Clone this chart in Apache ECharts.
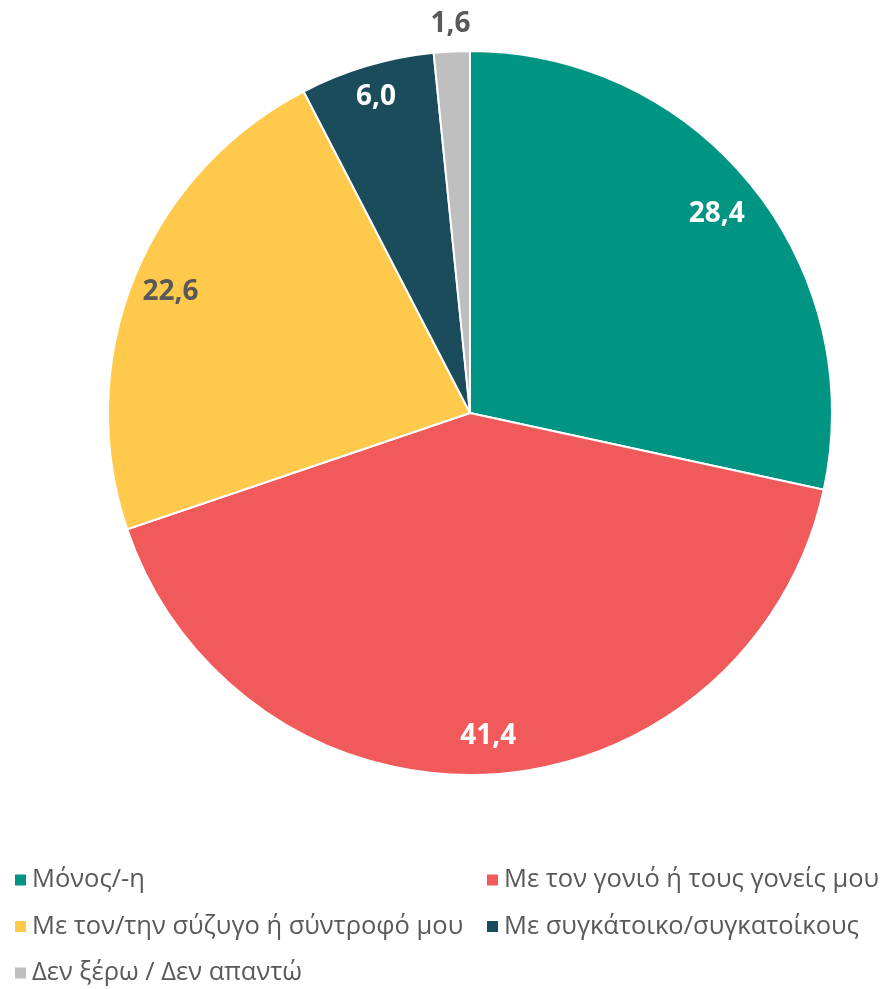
<!DOCTYPE html>
<html><head><meta charset="utf-8">
<script src="https://cdn.jsdelivr.net/npm/echarts@6/dist/echarts.min.js"></script>
<style>html,body{margin:0;padding:0;background:#fff}#c{width:885px;height:989px}</style>
</head><body><div id="c"></div>
<script>
const categories = ["Μόνος/-η","Με τον γονιό ή τους γονείς μου","Με τον/την σύζυγο ή σύντροφό μου","Με συγκάτοικο/συγκατοίκους","Δεν ξέρω / Δεν απαντώ"];
const values = [28.4, 41.4, 22.6, 6.0, 1.6];
const colors = ["#009483","#F05A5A","#FFC94B","#1A4C5C","#BFBFBF"];
const labelColors = ["#ffffff","#ffffff","#595959","#ffffff","#595959"];

const fmt = v => v.toFixed(1).replace('.', ',');
const center = [470, 413];
const R = 362;
// distance of each label from the centre (layout)
const labelDist = [314, 321, 320, 327, 386];

const mainData = categories.map((n,i)=>({name:n, value:values[i], itemStyle:{color:colors[i]}}));
const labelFont = {fontFamily:"'Open Sans', sans-serif", fontWeight:'bold', fontSize:28, formatter:p=>fmt(p.value)};
const legendText = {fontFamily:"'Open Sans', sans-serif", fontSize:25.5, lineHeight:26, color:'#595959'};

const labelSeries = categories.map((_,k)=>({
  type:'pie', center:center, radius:[0, labelDist[k]*2], startAngle:90, clockwise:true,
  data:categories.map((n,i)=>({name:n, value:values[i], label:{show:i===k, color:labelColors[i]}})),
  itemStyle:{color:'rgba(0,0,0,0)'}, label:Object.assign({position:'inside'},labelFont),
  labelLine:{show:false}, silent:true, legendHoverLink:false, z:5
}));

const legendBase = {orient:'vertical', top:867, padding:0, height:122, itemWidth:13, itemHeight:13, itemGap:20.5, icon:'rect', textStyle:legendText, selectedMode:false};

const chart = echarts.init(document.getElementById('c'));
chart.setOption({
  animation:false,
  legend:[
    Object.assign({data:[categories[0],categories[2],categories[4]], left:13}, legendBase),
    Object.assign({data:[categories[1],categories[3]], left:485}, legendBase)
  ],
  series:[
    {type:'pie', center:center, radius:[0,R], startAngle:90, clockwise:true, data:mainData,
     itemStyle:{borderColor:'#fff', borderWidth:2}, label:{show:false}, labelLine:{show:false}, silent:true}
  ].concat(labelSeries)
});
</script></body></html>
